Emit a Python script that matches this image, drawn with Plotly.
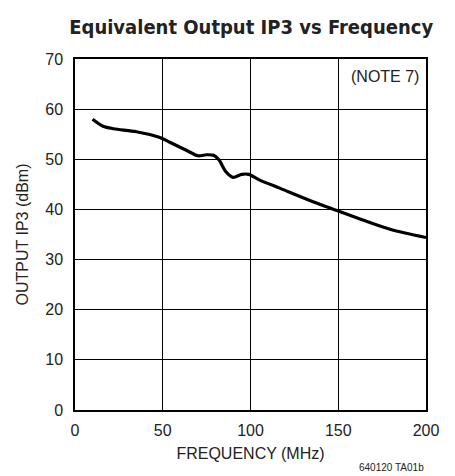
import plotly.graph_objects as go

freq_mhz = [10, 16, 22, 35, 48, 54, 64, 70, 75, 79, 82, 86, 90, 95, 99, 105, 117, 136, 150, 164, 180, 200]
ip3_dbm = [58.0, 56.6, 56.1, 55.5, 54.4, 53.4, 51.7, 50.7, 50.9, 50.8, 49.9, 47.5, 46.4, 47.0, 47.0, 45.9, 44.2, 41.5, 39.7, 37.9, 36.0, 34.4]
x_ticks = [0, 50, 100, 150, 200]
y_ticks = [0, 10, 20, 30, 40, 50, 60, 70]

FONT = "Liberation Sans, Arial, sans-serif"
TFONT = "DejaVu Sans Condensed, Liberation Sans, sans-serif"

fig = go.Figure()
fig.add_trace(go.Scatter(x=freq_mhz, y=ip3_dbm, mode="lines",
                         line=dict(color="black", width=3.2, shape="spline", smoothing=0.8),
                         hoverinfo="skip", showlegend=False))

axis_common = dict(showgrid=True, gridcolor="black", gridwidth=1,
                   showline=True, linecolor="black", linewidth=1.5, mirror=True,
                   zeroline=False, ticks="", tickfont=dict(family=FONT, size=16, color="#222"),
                   automargin=False)

fig.update_layout(
    width=447, height=468,
    margin=dict(l=67, r=29, t=51, b=66),
    paper_bgcolor="white", plot_bgcolor="white",
    title=dict(text="<b>Equivalent Output IP3 vs Frequency</b>",
               font=dict(family=TFONT, size=20, color="#222"),
               x=0.544, xanchor="center", y=0.959, yanchor="middle"),
    xaxis=dict(range=[0, 200], tickvals=x_ticks, ticklabelstandoff=5,
               title=dict(text="FREQUENCY (MHz)", font=dict(family=FONT, size=16, color="#222"), standoff=10),
               **axis_common),
    yaxis=dict(range=[0, 70], tickvals=y_ticks, ticklabelstandoff=7,
               title=dict(text="OUTPUT IP3 (dBm)", font=dict(family=FONT, size=16, color="#222"), standoff=13),
               **axis_common),
    annotations=[
        dict(text="(NOTE 7)", xref="paper", yref="paper", x=0.985, y=0.98,
             xanchor="right", yanchor="top", showarrow=False,
             font=dict(family=FONT, size=16, color="#222")),
        dict(text="640120 TA01b", xref="paper", yref="paper", x=1.0, y=-0.165,
             xanchor="right", yanchor="middle", showarrow=False,
             font=dict(family=FONT, size=10, color="#222")),
    ],
)

fig.write_html("out.html")
